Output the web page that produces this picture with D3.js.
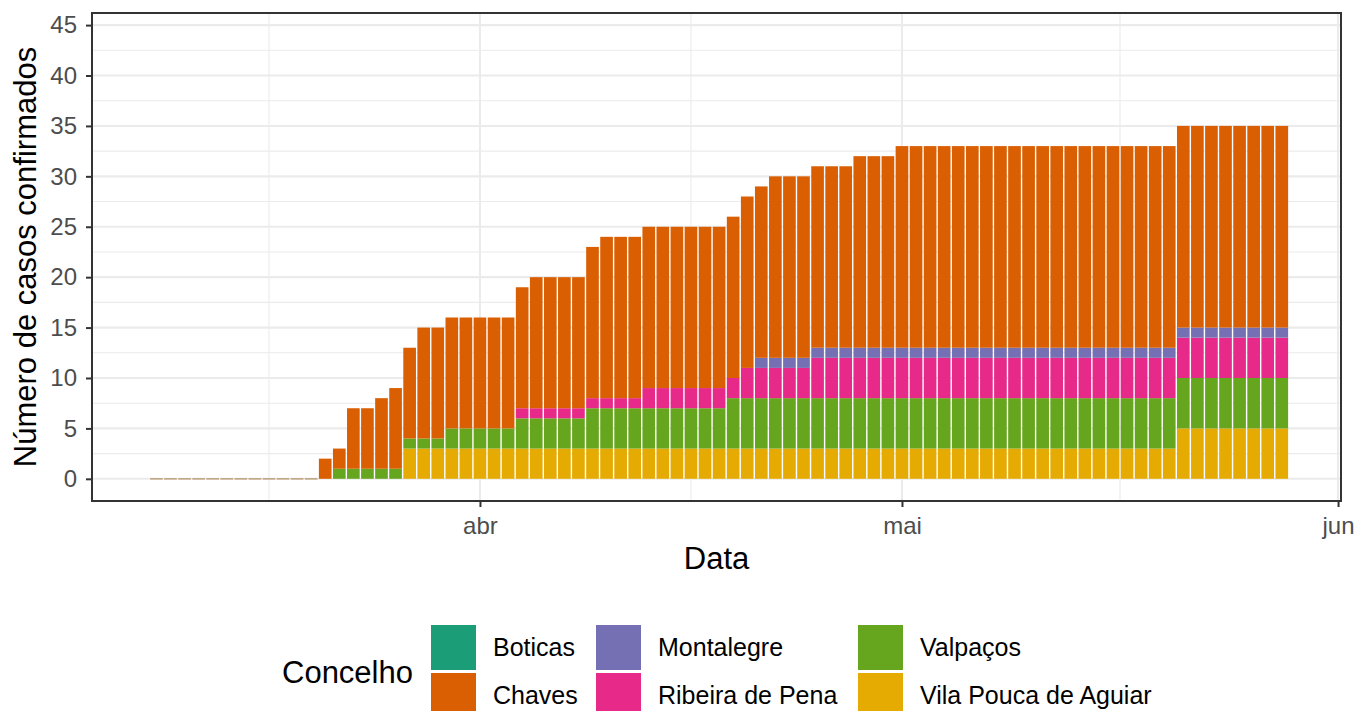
<!DOCTYPE html>
<html>
<head>
<meta charset="utf-8">
<script src="https://cdn.jsdelivr.net/npm/d3@7"></script>
<style>
  body { margin: 0; background: #fff; }
  text { font-family: "Liberation Sans", Arial, Helvetica, sans-serif; }
</style>
</head>
<body>
<script>
// daily cumulative cases per concelho, 9 Mar .. 28 May
var firstDay = new Date(Date.UTC(2020, 2, 9)),
    lastDay = new Date(Date.UTC(2020, 4, 28));

var concelhos = ['Boticas', 'Chaves', 'Montalegre', 'Ribeira de Pena', 'Valpaços', 'Vila Pouca de Aguiar'];
var cores = ['#1B9E77', '#D95F02', '#7570B3', '#E7298A', '#66A61E', '#E6AB02'];

var boticas = [
  0,0,0,0,0,0,0,0,0,0,0,0,0,0,0,0,0,0,0,0,0,0,0,
  0,0,0,0,0,0,0,0,0,0,0,0,0,0,0,0,0,0,0,0,0,0,0,0,0,0,0,0,0,0,
  0,0,0,0,0,0,0,0,0,0,0,0,0,0,0,0,0,0,0,0,0,0,0,0,0,0,0,0
];
var chaves = [
  0,0,0,0,0,0,0,0,0,0,0,0,2,2,6,6,7,8,9,11,11,11,11,
  11,11,11,12,13,13,13,13,15,16,16,16,16,16,16,16,16,16,16,17,17,18,18,18,18,18,18,19,19,19,
  20,20,20,20,20,20,20,20,20,20,20,20,20,20,20,20,20,20,20,20,20,20,20,20,20,20,20,20
];
var montalegre = [
  0,0,0,0,0,0,0,0,0,0,0,0,0,0,0,0,0,0,0,0,0,0,0,
  0,0,0,0,0,0,0,0,0,0,0,0,0,0,0,0,0,0,0,0,1,1,1,1,1,1,1,1,1,1,
  1,1,1,1,1,1,1,1,1,1,1,1,1,1,1,1,1,1,1,1,1,1,1,1,1,1,1,1
];
var ribeira = [
  0,0,0,0,0,0,0,0,0,0,0,0,0,0,0,0,0,0,0,0,0,0,0,
  0,0,0,1,1,1,1,1,1,1,1,1,2,2,2,2,2,2,2,3,3,3,3,3,4,4,4,4,4,4,
  4,4,4,4,4,4,4,4,4,4,4,4,4,4,4,4,4,4,4,4,4,4,4,4,4,4,4,4
];
var valpacos = [
  0,0,0,0,0,0,0,0,0,0,0,0,0,1,1,1,1,1,1,1,1,2,2,
  2,2,2,3,3,3,3,3,4,4,4,4,4,4,4,4,4,4,5,5,5,5,5,5,5,5,5,5,5,5,
  5,5,5,5,5,5,5,5,5,5,5,5,5,5,5,5,5,5,5,5,5,5,5,5,5,5,5,5
];
var vilaPouca = [
  0,0,0,0,0,0,0,0,0,0,0,0,0,0,0,0,0,0,3,3,3,3,3,
  3,3,3,3,3,3,3,3,3,3,3,3,3,3,3,3,3,3,3,3,3,3,3,3,3,3,3,3,3,3,
  3,3,3,3,3,3,3,3,3,3,3,3,3,3,3,3,3,3,3,3,5,5,5,5,5,5,5,5
];

var yTicks = [0, 5, 10, 15, 20, 25, 30, 35, 40, 45];
var yMinor = [2.5, 7.5, 12.5, 17.5, 22.5, 27.5, 32.5, 37.5, 42.5];
var xTicks = [new Date(Date.UTC(2020, 3, 1)), new Date(Date.UTC(2020, 4, 1)), new Date(Date.UTC(2020, 5, 1))];
var xTickLabels = ['abr', 'mai', 'jun'];
var xMinor = [new Date(Date.UTC(2020, 2, 17)), new Date(Date.UTC(2020, 3, 16)), new Date(Date.UTC(2020, 4, 16, 12))];

var serie = {
  'Boticas': boticas, 'Chaves': chaves, 'Montalegre': montalegre,
  'Ribeira de Pena': ribeira, 'Valpaços': valpacos, 'Vila Pouca de Aguiar': vilaPouca
};
var dias = d3.utcDay.range(firstDay, d3.utcDay.offset(lastDay, 1));
var tabela = dias.map(function (d, i) {
  var row = { data: d };
  concelhos.forEach(function (c) { row[c] = serie[c][i]; });
  return row;
});

var color = d3.scaleOrdinal().domain(concelhos).range(cores);

var W = 1359, H = 711;
var panel = { left: 92, right: 1341, top: 13, bottom: 501 };
var DAY = 864e5;

var svg = d3.select('body').append('svg')
  .attr('width', W).attr('height', H);

var x = d3.scaleUtc()
  .domain([new Date(xTicks[0].getTime() - 27.58 * DAY), new Date(xTicks[0].getTime() + 61.21 * DAY)])
  .range([panel.left, panel.right]);
var y = d3.scaleLinear()
  .domain([-2.2, 46.2])
  .range([panel.bottom, panel.top]);

// grid
var grid = svg.append('g');
grid.selectAll('.ymin').data(yMinor).enter().append('line')
  .attr('x1', panel.left).attr('x2', panel.right)
  .attr('y1', function (d) { return y(d); }).attr('y2', function (d) { return y(d); })
  .attr('stroke', '#ebebeb').attr('stroke-width', 1.1);
grid.selectAll('.xmin').data(xMinor).enter().append('line')
  .attr('y1', panel.top).attr('y2', panel.bottom)
  .attr('x1', function (d) { return x(d); }).attr('x2', function (d) { return x(d); })
  .attr('stroke', '#ebebeb').attr('stroke-width', 1.1);
grid.selectAll('.ymaj').data(yTicks).enter().append('line')
  .attr('x1', panel.left).attr('x2', panel.right)
  .attr('y1', function (d) { return y(d); }).attr('y2', function (d) { return y(d); })
  .attr('stroke', '#ebebeb').attr('stroke-width', 2.1);
grid.selectAll('.xmaj').data(xTicks).enter().append('line')
  .attr('y1', panel.top).attr('y2', panel.bottom)
  .attr('x1', function (d) { return x(d); }).attr('x2', function (d) { return x(d); })
  .attr('stroke', '#ebebeb').attr('stroke-width', 2.1);

// stacked bars, first level on top (ggplot order)
var stack = d3.stack().keys(concelhos.slice().reverse());
var camadas = stack(tabela);
var half = 0.45 * DAY;

var layer = svg.append('g').selectAll('.layer')
  .data(camadas).enter().append('g')
  .attr('fill', function (d) { return color(d.key); });

layer.selectAll('rect')
  .data(function (d) { return d.filter(function (v) { return v[1] > v[0]; }); })
  .enter().append('rect')
  .attr('x', function (d) { return x(new Date(d.data.data.getTime() - half)); })
  .attr('width', function (d) { return x(new Date(d.data.data.getTime() + half)) - x(new Date(d.data.data.getTime() - half)); })
  .attr('y', function (d) { return y(d[1]); })
  .attr('height', function (d) { return y(d[0]) - y(d[1]); });

// days with no cases show as a hairline
svg.append('g').selectAll('rect')
  .data(tabela.filter(function (d) { return d3.sum(concelhos, function (c) { return d[c]; }) === 0; }))
  .enter().append('rect')
  .attr('x', function (d) { return x(new Date(d.data.getTime() - half)); })
  .attr('width', function (d) { return x(new Date(d.data.getTime() + half)) - x(new Date(d.data.getTime() - half)); })
  .attr('y', y(0) - 0.6)
  .attr('height', 1.3)
  .attr('fill', '#b5966b');

// panel border
svg.append('rect')
  .attr('x', panel.left).attr('y', panel.top)
  .attr('width', panel.right - panel.left).attr('height', panel.bottom - panel.top)
  .attr('fill', 'none').attr('stroke', '#333333').attr('stroke-width', 2);

// axes
var xAxis = svg.append('g')
  .attr('transform', 'translate(0,' + panel.bottom + ')')
  .call(d3.axisBottom(x).tickValues(xTicks)
    .tickFormat(function (d, i) { return xTickLabels[i]; })
    .tickSize(6).tickPadding(10));
var yAxis = svg.append('g')
  .attr('transform', 'translate(' + panel.left + ',0)')
  .call(d3.axisLeft(y).tickValues(yTicks).tickSize(6).tickPadding(9));

[xAxis, yAxis].forEach(function (a) {
  a.select('.domain').remove();
  a.selectAll('.tick line').attr('stroke', '#333333').attr('stroke-width', 2);
  a.selectAll('.tick text')
    .attr('fill', '#4d4d4d')
    .attr('font-size', 24)
    .style('font-family', '"Liberation Sans", Arial, Helvetica, sans-serif');
});

svg.append('text')
  .attr('x', (panel.left + panel.right) / 2)
  .attr('y', 569)
  .attr('text-anchor', 'middle')
  .attr('font-size', 31)
  .attr('fill', '#000')
  .text('Data');

svg.append('text')
  .attr('transform', 'translate(36,' + (panel.top + panel.bottom) / 2 + ') rotate(-90)')
  .attr('text-anchor', 'middle')
  .attr('font-size', 31)
  .attr('fill', '#000')
  .text('Número de casos confirmados');

// legend
var legend = svg.append('g');
legend.append('text')
  .attr('x', 282).attr('y', 683)
  .attr('font-size', 31)
  .attr('fill', '#000')
  .text('Concelho');

var colX = [431, 596, 858];
var rowY = [625, 673];
var item = legend.selectAll('.item')
  .data(concelhos).enter().append('g')
  .attr('transform', function (d, i) {
    return 'translate(' + colX[Math.floor(i / 2)] + ',' + rowY[i % 2] + ')';
  });
item.append('rect')
  .attr('width', 45).attr('height', 45)
  .attr('fill', function (d) { return color(d); });
item.append('text')
  .attr('x', 62).attr('y', 31)
  .attr('font-size', 25)
  .attr('fill', '#000')
  .text(function (d) { return d; });
</script>
</body>
</html>
